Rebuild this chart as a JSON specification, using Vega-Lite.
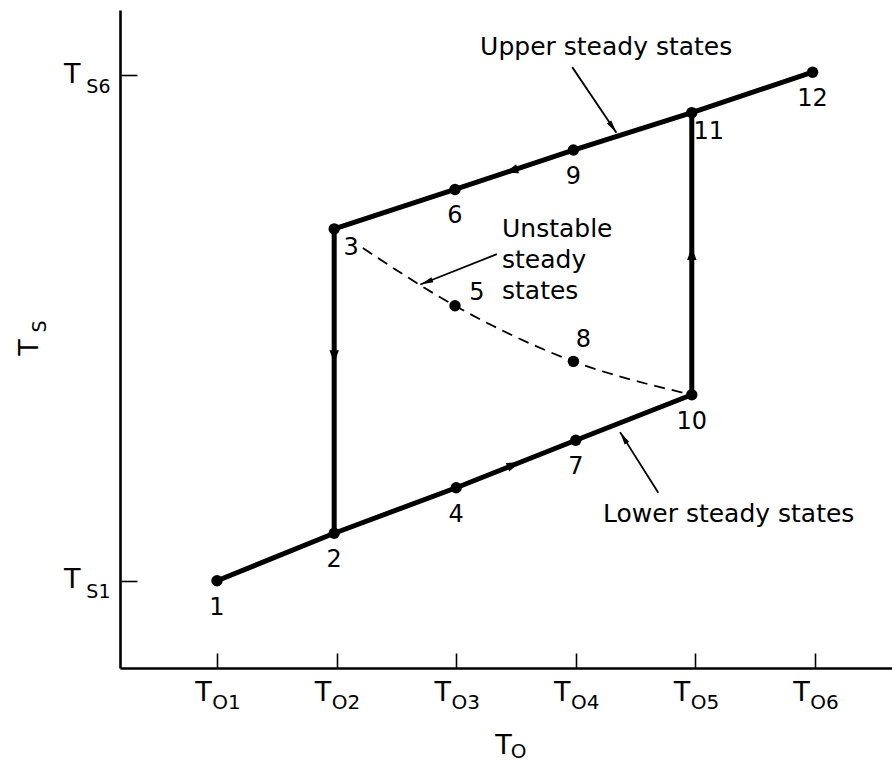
{
  "$schema": "https://vega.github.io/schema/vega-lite/v6.json",
  "width": 772,
  "height": 658,
  "autosize": "none",
  "padding": {"left": 120, "top": 10, "right": 0, "bottom": 95},
  "background": "white",
  "config": {"view": {"stroke": null}, "font": "DejaVu Sans"},
  "datasets": {
    "pts": [
      {"id": "1", "x": 1.0, "y": 1.0},
      {"id": "2", "x": 1.98, "y": 1.47},
      {"id": "3", "x": 1.98, "y": 4.48},
      {"id": "4", "x": 3.0, "y": 1.92},
      {"id": "5", "x": 2.99, "y": 3.72},
      {"id": "6", "x": 2.99, "y": 4.87},
      {"id": "7", "x": 4.0, "y": 2.39},
      {"id": "8", "x": 3.98, "y": 3.17},
      {"id": "9", "x": 3.98, "y": 5.26},
      {"id": "10", "x": 4.97, "y": 2.84},
      {"id": "11", "x": 4.97, "y": 5.63},
      {"id": "12", "x": 5.98, "y": 6.03}
    ],
    "path": [
      {"path": "A", "seq": 1, "x": 1.0, "y": 1.0},
      {"path": "A", "seq": 2, "x": 1.98, "y": 1.47},
      {"path": "A", "seq": 3, "x": 3.0, "y": 1.92},
      {"path": "A", "seq": 4, "x": 4.0, "y": 2.39},
      {"path": "A", "seq": 5, "x": 4.97, "y": 2.84},
      {"path": "A", "seq": 6, "x": 4.97, "y": 5.63},
      {"path": "A", "seq": 7, "x": 5.98, "y": 6.03},
      {"path": "B", "seq": 1, "x": 1.98, "y": 1.47},
      {"path": "B", "seq": 2, "x": 1.98, "y": 4.48},
      {"path": "B", "seq": 3, "x": 2.99, "y": 4.87},
      {"path": "B", "seq": 4, "x": 3.98, "y": 5.26},
      {"path": "B", "seq": 5, "x": 4.97, "y": 5.63}
    ],
    "dash": [
      {"seq": 1, "x": 2.22, "y": 4.29},
      {"seq": 2, "x": 2.99, "y": 3.72},
      {"seq": 3, "x": 3.98, "y": 3.17},
      {"seq": 4, "x": 4.95, "y": 2.845}
    ],
    "flow": [
      {"dir": "right", "x": 3.53, "y": 2.17},
      {"dir": "left", "x": 3.41, "y": 5.035},
      {"dir": "down", "x": 1.98, "y": 3.15},
      {"dir": "up", "x": 4.97, "y": 4.3}
    ],
    "notes": [
      {"name": "upper", "x": 3.97, "y": 6.08, "x2": 4.34, "y2": 5.43},
      {"name": "unstable", "x": 3.34, "y": 4.23, "x2": 2.7, "y2": 3.93},
      {"name": "lower", "x": 4.69, "y": 1.87, "x2": 4.37, "y2": 2.47}
    ],
    "texts": [
      {"name": "upper", "text": "Upper steady states", "x": 3.2, "y": 6.2},
      {"name": "unstable", "text": "Unstable\nsteady\nstates", "x": 3.383, "y": 4.4},
      {"name": "lower", "text": "Lower steady states", "x": 4.228, "y": 1.58}
    ]
  },
  "encoding": {
    "x": {"field": "x", "type": "quantitative", "scale": {"domain": [0.189, 6.644], "nice": false, "zero": false}, "axis": null},
    "y": {"field": "y", "type": "quantitative", "scale": {"domain": [0.137, 6.645], "nice": false, "zero": false}, "axis": null}
  },
  "layer": [
    {
      "data": {"name": "path"},
      "mark": {"type": "line", "color": "black", "strokeWidth": 5, "strokeJoin": "round", "strokeCap": "round"},
      "encoding": {
        "x": {"field": "x", "type": "quantitative", "scale": {"domain": [0.189, 6.644], "nice": false, "zero": false},
          "axis": {"orient": "bottom", "values": [1, 2, 3, 4, 5, 6], "labelExpr": "'T'", "labelFont": "DejaVu Sans", "labelFontSize": 27, "labelColor": "black", "labelOffset": -14, "labelBaseline": "alphabetic", "labelPadding": 32, "labelFlush": false, "labelOverlap": false,
            "ticks": false, "tickSize": 0, "domainColor": "black", "domainWidth": 2.6, "grid": false,
            "title": "T", "titleFont": "DejaVu Sans", "titleFontSize": 27, "titleFontWeight": "normal", "titleColor": "black", "titleX": 383, "titleY": 85, "titleAlign": "center", "titleBaseline": "alphabetic"}},
        "y": {"field": "y", "type": "quantitative", "scale": {"domain": [0.137, 6.645], "nice": false, "zero": false},
          "axis": {"orient": "left", "values": [1, 6], "labelExpr": "'T'", "labelFont": "DejaVu Sans", "labelFontSize": 27, "labelColor": "black", "labelOffset": 7, "labelAlign": "right", "labelBaseline": "alphabetic", "labelPadding": 40, "labelFlush": false, "labelOverlap": false,
            "ticks": false, "tickSize": 0, "domainColor": "black", "domainWidth": 2.6, "grid": false,
            "title": "T", "titleFont": "DejaVu Sans", "titleFontSize": 27, "titleFontWeight": "normal", "titleColor": "black", "titleAngle": 270, "titleX": -83, "titleY": 337, "titleAlign": "center", "titleBaseline": "alphabetic"}},
        "detail": {"field": "path", "type": "nominal"},
        "order": {"field": "seq", "type": "quantitative"}
      }
    },
    {
      "data": {"name": "dash"},
      "mark": {"type": "line", "color": "black", "strokeWidth": 1.8, "strokeDash": [11, 7], "interpolate": "monotone"},
      "encoding": {
        "x": {"field": "x", "type": "quantitative", "scale": {"domain": [0.189, 6.644], "nice": false, "zero": false},
          "axis": {"orient": "top", "offset": -658, "values": [1, 2, 3, 4, 5, 6], "labels": false, "domain": false, "grid": false, "ticks": true, "tickSize": 15, "tickWidth": 1.6, "tickColor": "black", "title": null}},
        "y": {"field": "y", "type": "quantitative", "scale": {"domain": [0.137, 6.645], "nice": false, "zero": false},
          "axis": {"orient": "right", "offset": -772, "values": [1, 6], "labels": false, "domain": false, "grid": false, "ticks": true, "tickSize": 17, "tickWidth": 1.6, "tickColor": "black", "title": null}},
        "order": {"field": "seq", "type": "quantitative"}
      }
    },
    {
      "data": {"name": "pts"},
      "mark": {"type": "point", "filled": true, "color": "black", "opacity": 1, "size": 130},
      "encoding": {
        "x": {"field": "x", "type": "quantitative", "scale": {"domain": [0.189, 6.644], "nice": false, "zero": false},
          "axis": {"orient": "bottom", "values": [1, 2, 3, 4, 5, 6], "labelExpr": "'O' + datum.value", "labelFont": "DejaVu Sans", "labelFontSize": 20, "labelColor": "black", "labelOffset": 9, "labelBaseline": "alphabetic", "labelPadding": 40, "labelFlush": false, "labelOverlap": false,
            "ticks": false, "tickSize": 0, "domain": false, "grid": false,
            "title": "O", "titleFont": "DejaVu Sans", "titleFontSize": 20, "titleFontWeight": "normal", "titleColor": "black", "titleX": 398, "titleY": 89, "titleAlign": "center", "titleBaseline": "alphabetic"}},
        "y": {"field": "y", "type": "quantitative", "scale": {"domain": [0.137, 6.645], "nice": false, "zero": false},
          "axis": {"orient": "left", "values": [1, 6], "labelExpr": "'S' + datum.value", "labelFont": "DejaVu Sans", "labelFontSize": 19, "labelColor": "black", "labelOffset": 17, "labelAlign": "right", "labelBaseline": "alphabetic", "labelPadding": 10, "labelFlush": false, "labelOverlap": false,
            "ticks": false, "tickSize": 0, "domain": false, "grid": false,
            "title": "S", "titleFont": "DejaVu Sans", "titleFontSize": 19, "titleFontWeight": "normal", "titleColor": "black", "titleAngle": 270, "titleX": -75, "titleY": 316, "titleAlign": "center", "titleBaseline": "alphabetic"}}
      }
    },
    {
      "data": {"name": "flow"},
      "transform": [{"filter": "datum.dir == 'right'"}],
      "mark": {"type": "point", "shape": "M0,0L0.8,2.2L-0.8,2.2Z", "filled": true, "color": "black", "opacity": 1, "size": 140, "angle": 68.7}
    },
    {
      "data": {"name": "flow"},
      "transform": [{"filter": "datum.dir == 'left'"}],
      "mark": {"type": "point", "shape": "M0,0L0.8,2.2L-0.8,2.2Z", "filled": true, "color": "black", "opacity": 1, "size": 140, "angle": 251.9}
    },
    {
      "data": {"name": "flow"},
      "transform": [{"filter": "datum.dir == 'down'"}],
      "mark": {"type": "point", "shape": "M0,0L0.8,2.2L-0.8,2.2Z", "filled": true, "color": "black", "opacity": 1, "size": 140, "angle": 180}
    },
    {
      "data": {"name": "flow"},
      "transform": [{"filter": "datum.dir == 'up'"}],
      "mark": {"type": "point", "shape": "M0,0L0.8,2.2L-0.8,2.2Z", "filled": true, "color": "black", "opacity": 1, "size": 140, "angle": 0}
    },
    {
      "data": {"name": "notes"},
      "mark": {"type": "rule", "color": "black", "strokeWidth": 1.8},
      "encoding": {"x2": {"field": "x2"}, "y2": {"field": "y2"}}
    },
    {
      "data": {"name": "notes"},
      "transform": [{"filter": "datum.name == 'upper'"}],
      "mark": {"type": "point", "shape": "M0,0L0.45,2.2L-0.45,2.2Z", "filled": true, "color": "black", "opacity": 1, "size": 140, "angle": 145.7},
      "encoding": {"x": {"field": "x2", "type": "quantitative"}, "y": {"field": "y2", "type": "quantitative"}}
    },
    {
      "data": {"name": "notes"},
      "transform": [{"filter": "datum.name == 'unstable'"}],
      "mark": {"type": "point", "shape": "M0,0L0.45,2.2L-0.45,2.2Z", "filled": true, "color": "black", "opacity": 1, "size": 140, "angle": 248.7},
      "encoding": {"x": {"field": "x2", "type": "quantitative"}, "y": {"field": "y2", "type": "quantitative"}}
    },
    {
      "data": {"name": "notes"},
      "transform": [{"filter": "datum.name == 'lower'"}],
      "mark": {"type": "point", "shape": "M0,0L0.45,2.2L-0.45,2.2Z", "filled": true, "color": "black", "opacity": 1, "size": 140, "angle": 328.1},
      "encoding": {"x": {"field": "x2", "type": "quantitative"}, "y": {"field": "y2", "type": "quantitative"}}
    },
    {
      "data": {"name": "pts"},
      "transform": [{"filter": "indexof(['1','2','4','6','7','9','10','12'], datum.id) >= 0"}],
      "mark": {"type": "text", "font": "DejaVu Sans", "fontSize": 24, "color": "black", "align": "center", "baseline": "middle", "dy": 27},
      "encoding": {"text": {"field": "id"}}
    },
    {
      "data": {"name": "pts"},
      "transform": [{"filter": "indexof(['3','11'], datum.id) >= 0"}],
      "mark": {"type": "text", "font": "DejaVu Sans", "fontSize": 24, "color": "black", "align": "center", "baseline": "middle", "dx": 17, "dy": 19},
      "encoding": {"text": {"field": "id"}}
    },
    {
      "data": {"name": "pts"},
      "transform": [{"filter": "datum.id == '5'"}],
      "mark": {"type": "text", "font": "DejaVu Sans", "fontSize": 24, "color": "black", "align": "center", "baseline": "middle", "dx": 22, "dy": -13},
      "encoding": {"text": {"field": "id"}}
    },
    {
      "data": {"name": "pts"},
      "transform": [{"filter": "datum.id == '8'"}],
      "mark": {"type": "text", "font": "DejaVu Sans", "fontSize": 24, "color": "black", "align": "center", "baseline": "middle", "dx": 10, "dy": -21},
      "encoding": {"text": {"field": "id"}}
    },
    {
      "data": {"name": "texts"},
      "mark": {"type": "text", "font": "DejaVu Sans", "fontSize": 25, "color": "black", "align": "left", "baseline": "alphabetic", "lineBreak": "\n", "lineHeight": 31},
      "encoding": {"text": {"field": "text"}}
    }
  ],
  "resolve": {"axis": {"x": "independent", "y": "independent"}}
}
